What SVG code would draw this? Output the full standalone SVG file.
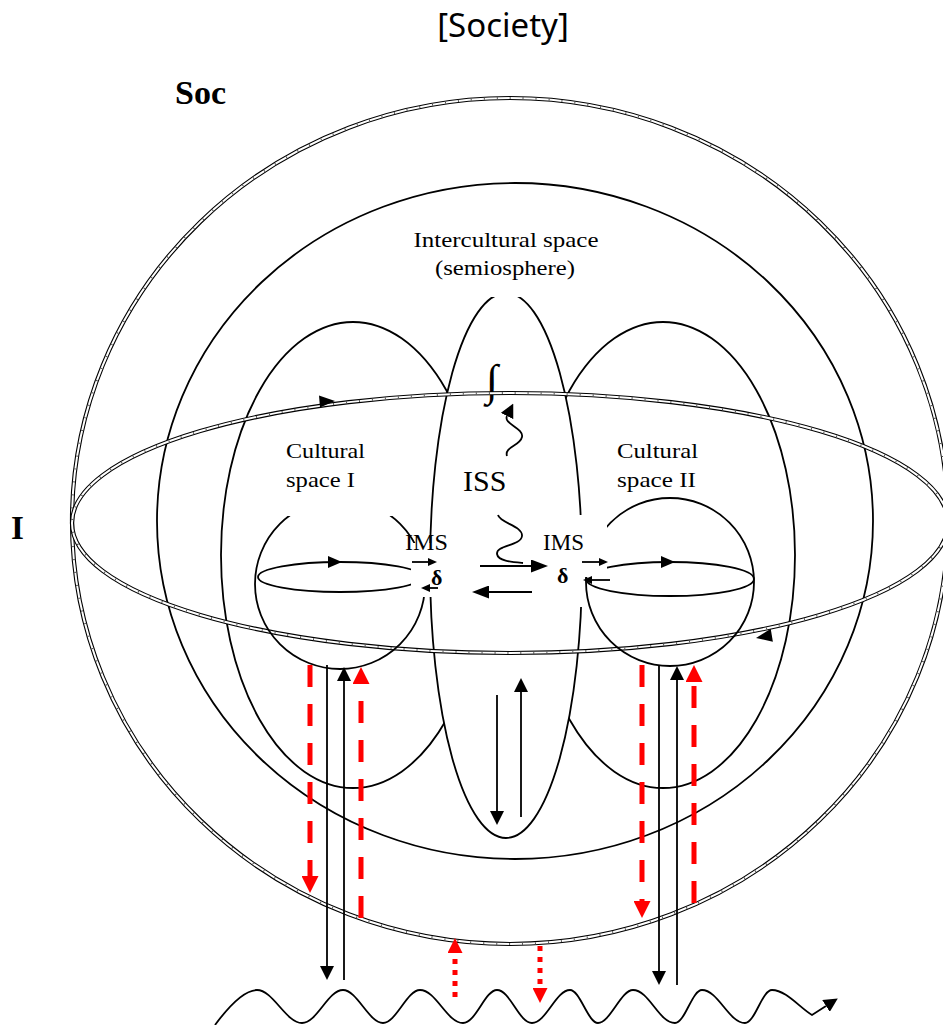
<svg xmlns="http://www.w3.org/2000/svg" width="943" height="1025" viewBox="0 0 943 1025">
<defs>
<style>
.ln{fill:none;stroke:#000;stroke-width:1.8}
.d1{fill:none;stroke:#000;stroke-width:4.2}
.d2{fill:none;stroke:#fff;stroke-width:2}
.d3{fill:none;stroke:#555;stroke-width:2.2;stroke-dasharray:1 12}
.t{font-family:"Liberation Serif","Times New Roman",serif;font-size:22px;fill:#000}
.wb{fill:#fff;stroke:none}
.ar{fill:none;stroke:#000;stroke-width:1.8}
.rd{fill:none;stroke:#f00;stroke-width:5;stroke-dasharray:22 17}
.rdot{fill:none;stroke:#f00;stroke-width:5;stroke-dasharray:5 6}
.hd{fill:#000;stroke:none}
</style>
<marker id="ah" markerUnits="userSpaceOnUse" markerWidth="14" markerHeight="14" viewBox="0 0 10 10" refX="0" refY="5" orient="auto" preserveAspectRatio="none"><path d="M0,0 L10,5 L0,10 z" fill="#000"/></marker>
<marker id="ahm" markerUnits="userSpaceOnUse" markerWidth="17" markerHeight="13" viewBox="0 0 10 10" refX="0" refY="5" orient="auto" preserveAspectRatio="none"><path d="M0,0 L10,5 L0,10 z" fill="#000"/></marker>
<marker id="ahs" markerUnits="userSpaceOnUse" markerWidth="9" markerHeight="8" viewBox="0 0 10 10" refX="0" refY="5" orient="auto" preserveAspectRatio="none"><path d="M0,0 L10,5 L0,10 z" fill="#000"/></marker>
<marker id="ahr" markerUnits="userSpaceOnUse" markerWidth="17" markerHeight="17" viewBox="0 0 10 10" refX="0" refY="5" orient="auto" preserveAspectRatio="none"><path d="M0,0 L10,5 L0,10 z" fill="#f00"/></marker>
<marker id="ahd" markerUnits="userSpaceOnUse" markerWidth="15" markerHeight="15" viewBox="0 0 10 10" refX="0" refY="5" orient="auto" preserveAspectRatio="none"><path d="M0,0 L10,5 L0,10 z" fill="#f00"/></marker>
</defs>
<rect width="943" height="1025" fill="#fff"/>

<g id="title"><text x="503" y="37" text-anchor="middle" style="font-family:'Noto Sans','DejaVu Sans',sans-serif;font-size:33px">[Society]</text></g>
<g id="soc-label"><text x="175" y="104" style="font-family:'Liberation Serif','Times New Roman',serif;font-size:34px;font-weight:bold">Soc</text></g>
<g id="i-label"><text x="11" y="539" style="font-family:'Liberation Serif','Times New Roman',serif;font-size:33px;font-weight:bold">I</text></g>

<g id="outer-sphere">
<ellipse cx="510" cy="521" rx="438" ry="423" class="d1"/>
<ellipse cx="510" cy="521" rx="438" ry="423" class="d2"/>
<ellipse cx="510" cy="521" rx="438" ry="423" class="d3"/>
</g>
<g id="inner-sphere"><ellipse cx="515" cy="521" rx="358" ry="338" class="ln"/></g>
<g id="lobe-left"><ellipse cx="353" cy="555" rx="132" ry="233" class="ln"/></g>
<g id="lobe-right"><ellipse cx="663" cy="555" rx="132" ry="233" class="ln"/></g>

<g id="iss">
<ellipse cx="506" cy="565.5" rx="76" ry="272.5" fill="#fff" stroke="#000" stroke-width="1.8"/>
<rect class="wb" x="410" y="226" width="190" height="71"/>
<text class="t" x="506" y="247" text-anchor="middle" textLength="185" lengthAdjust="spacingAndGlyphs">Intercultural space</text>
<text class="t" x="505" y="275" text-anchor="middle" textLength="140" lengthAdjust="spacingAndGlyphs">(semiosphere)</text>
<text x="486" y="395" style="font-family:'Liberation Serif','Times New Roman','DejaVu Serif',serif;font-size:44px">∫</text>
<text x="463" y="491" style="font-family:'Liberation Serif','Times New Roman',serif;font-size:30px">ISS</text>
</g>

<g id="plane-I">
<ellipse cx="510" cy="523" rx="438" ry="130" class="d1"/>
<ellipse cx="510" cy="523" rx="438" ry="130" class="d2"/>
<ellipse cx="510" cy="523" rx="438" ry="130" class="d3"/>
<polygon class="hd" points="335,401 319,395.5 320,407.5"/>
<polygon class="hd" points="756,638 772.9,641.8 770.7,628.8"/>
</g>

<g id="cultural-space-1">
<circle cx="340" cy="584" r="85" class="ln"/>
<ellipse cx="340" cy="577" rx="82" ry="15" class="ln"/>
<polygon class="hd" points="342,562 328,556 328,568"/>
<rect class="wb" x="278" y="425" width="124" height="91"/>
<text class="t" x="286" y="458" textLength="79" lengthAdjust="spacingAndGlyphs">Cultural</text>
<text class="t" x="286" y="487" textLength="69" lengthAdjust="spacingAndGlyphs">space I</text>
</g>

<g id="cultural-space-2">
<circle cx="670" cy="582" r="84" class="ln"/>
<ellipse cx="670" cy="579" rx="84" ry="17" class="ln"/>
<polygon class="hd" points="675,562 661,556 661,568"/>
<text class="t" x="617" y="458" textLength="81" lengthAdjust="spacingAndGlyphs">Cultural</text>
<text class="t" x="617" y="487" textLength="79" lengthAdjust="spacingAndGlyphs">space II</text>
</g>

<g id="ims-left">
<rect class="wb" x="411" y="543" width="51" height="54"/>
<text class="t" x="405" y="550" textLength="43" lengthAdjust="spacingAndGlyphs" style="font-size:23px">IMS</text>
<text x="431" y="585" style="font-family:'Liberation Serif','Times New Roman',serif;font-size:22px;font-weight:bold">δ</text>
</g>
<g id="ims-right">
<rect class="wb" x="555" y="515" width="52" height="62"/>
<rect class="wb" x="555" y="577" width="30" height="30"/>
<text class="t" x="543" y="550" textLength="41" lengthAdjust="spacingAndGlyphs" style="font-size:23px">IMS</text>
<text x="557" y="583" style="font-family:'Liberation Serif','Times New Roman',serif;font-size:22px;font-weight:bold">δ</text>
</g>

<g id="connectors">
<path class="ar" d="M507,456 C504,447 520,446 522,437 C524,428 503,424 507,416" marker-end="url(#ah)"/>
<path class="ar" d="M498,515 C500,523 523,526 522,536 C521,546 496,545 497,554 C498,561 512,562 523,563"/>
<line class="ar" x1="480" y1="566" x2="531" y2="566" marker-end="url(#ahm)"/>
<line class="ar" x1="532" y1="592" x2="489" y2="592" marker-end="url(#ahm)"/>
<line class="ar" x1="412" y1="562" x2="428" y2="562" marker-end="url(#ahs)"/>
<line class="ar" x1="438" y1="588" x2="430" y2="588" marker-end="url(#ahs)"/>
<line class="ar" x1="582" y1="562" x2="599" y2="562" marker-end="url(#ahs)"/>
<line class="ar" x1="610" y1="580" x2="592" y2="580" marker-end="url(#ahs)"/>

<line class="ar" x1="327" y1="665" x2="327" y2="966" marker-end="url(#ah)"/>
<line class="ar" x1="344" y1="980" x2="344" y2="681" marker-end="url(#ah)"/>
<line class="rd" x1="310" y1="665" x2="310" y2="876" marker-end="url(#ahr)"/>
<line class="rd" x1="361" y1="918" x2="361" y2="684" marker-end="url(#ahr)"/>

<line class="ar" x1="497" y1="695" x2="497" y2="811" marker-end="url(#ah)"/>
<line class="ar" x1="521" y1="817" x2="521" y2="692" marker-end="url(#ah)"/>

<line class="rd" x1="642" y1="665" x2="642" y2="901" marker-end="url(#ahr)"/>
<line class="ar" x1="659" y1="665" x2="659" y2="971" marker-end="url(#ah)"/>
<line class="ar" x1="677" y1="985" x2="677" y2="680" marker-end="url(#ah)"/>
<line class="rd" x1="694" y1="903" x2="694" y2="682" marker-end="url(#ahr)"/>

<line class="rdot" x1="455" y1="997" x2="455" y2="953" marker-end="url(#ahd)"/>
<line class="rdot" x1="540" y1="946" x2="540" y2="988" marker-end="url(#ahd)"/>

<path class="ar" d="M215,1025 C229,1006 244,990 257,990 C273,990 286,1023 302,1023 C317,1023 328,990 343,990 C357,990 369,1023 383,1023 C396,1023 407,990 420,990 C436,990 447,1023 463,1023 C476,1023 485,990 497,990 C510,990 519,1023 532,1023 C546,1023 556,990 570,990 C580,990 588,1023 598,1023 C610,1023 621,990 633,990 C649,990 659,1023 675,1023 C685,1023 692,990 702,990 C718,990 729,1023 745,1023 C755,1023 762,990 772,990 C786,990 800,1008 812,1015 L826,1006" marker-end="url(#ah)"/>
</g>
</svg>
